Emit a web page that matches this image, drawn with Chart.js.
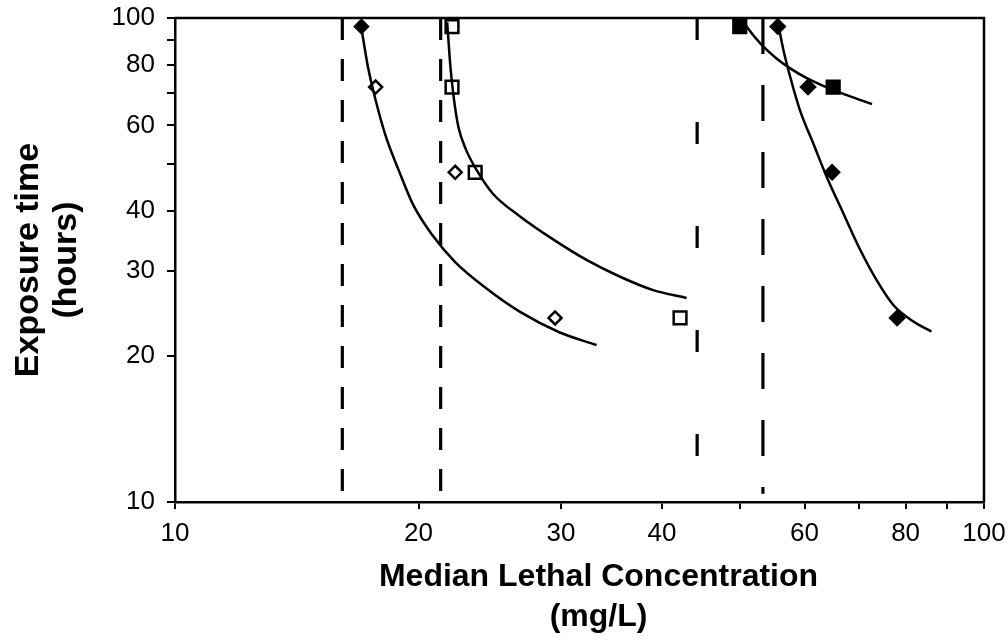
<!DOCTYPE html>
<html>
<head>
<meta charset="utf-8">
<script src="https://cdn.jsdelivr.net/npm/chart.js@4.4.1/dist/chart.umd.min.js"></script>
<style>
  body { margin: 0; background: #fff; }
  #wrap { width: 1008px; height: 643px; }
</style>
</head>
<body>
<div id="wrap"><canvas id="chart" width="1008" height="643"></canvas></div>
<script>
// exposure times (hours) of the measured points
const hours = [96, 72, 48, 24];

// measured LC50 values (mg/L)
const leftDiamonds = [17.0, 17.7, 22.2, 29.5];
const midSquares = [22.0, 22.0, 23.5, 42.1];
const rightSquares = [49.9, 65.1];
const rightDiamonds = [55.6, 60.6, 64.9, 78.1];

// fitted curves, [concentration, hours]
const curveA = [[17.0, 95.3], [17.3, 80.0], [17.7, 67.7], [18.2, 57.3], [18.9, 48.5], [19.7, 41.1],
  [20.8, 35.6], [22.2, 31.3], [24.2, 27.7], [26.7, 24.7], [29.9, 22.4], [33.2, 21.1]];
const curveB = [[21.7, 98.0], [21.9, 79.3], [22.1, 68.8], [22.4, 59.6], [22.9, 53.4], [23.6, 48.5],
  [24.7, 43.4], [26.7, 38.9], [29.4, 34.8], [32.3, 31.6], [35.5, 29.2], [39.0, 27.4], [42.9, 26.4]];
const curveC = [[49.5, 103], [50.9, 95.9], [52.9, 88.6], [55.4, 82.5], [57.6, 78.7], [60.4, 75.1],
  [63.9, 71.9], [67.7, 69.3], [72.7, 66.4]];
const curveD = [[55.7, 96.7], [56.5, 85.9], [57.6, 75.6], [59.2, 64.6], [61.5, 55.1], [63.9, 47.0],
  [67.0, 39.5], [70.3, 33.2], [73.7, 28.7], [77.3, 25.5], [81.8, 23.6], [86.1, 22.5]];

// incipient LC50 (dashed verticals)
const asymptotes = [16.1, 21.3, 44.2, 53.3];
const asymptoteSpan = [100, 10.4];

// axes
const xTickMarks = [10, 20, 30, 40, 50, 60, 70, 80, 90, 100];
const xTickLabels = [10, 20, 30, 40, 60, 80, 100];
const yTickMarks = [10, 20, 30, 40, 50, 60, 70, 80, 90, 100];
const yTickLabels = [10, 20, 30, 40, 60, 80, 100];
const xTitle = ["Median Lethal Concentration", "(mg/L)"];
const yTitle = ["Exposure time", "(hours)"];

const FONT = '"Liberation Sans", Arial, Helvetica, sans-serif';

function toPoints(arr) {
  return arr.map(p => ({ x: p[0], y: p[1] }));
}

function markers(xs) {
  return xs.map((x, i) => ({ x: x, y: hours[i] }));
}

function curve(arr) {
  return {
    data: toPoints(arr),
    borderColor: "#000",
    borderWidth: 2.5,
    pointRadius: 0,
    cubicInterpolationMode: "monotone",
    fill: false
  };
}

const dashPatterns = [[22, 19], [22, 19], [22, 82], [36, 31]];

const dashSets = asymptotes.map((x, i) => ({
  data: asymptoteSpan.map(y => ({ x: x, y: y })),
  borderColor: "#000",
  borderWidth: 3.2,
  borderDash: dashPatterns[i],
  pointRadius: 0,
  fill: false
}));

function markerSet(xs, style, radius, fills) {
  return {
    data: markers(xs),
    showLine: false,
    pointStyle: style,
    pointRadius: radius,
    pointBorderWidth: 2.5,
    pointBorderColor: "#000",
    pointBackgroundColor: fills
  };
}

const frame = {
  id: "frame",
  afterDraw(chart) {
    const { ctx, chartArea } = chart;
    ctx.save();
    ctx.strokeStyle = "#000";
    ctx.lineWidth = 2.5;
    ctx.beginPath();
    ctx.moveTo(chartArea.left, chartArea.top);
    ctx.lineTo(chartArea.right, chartArea.top);
    ctx.lineTo(chartArea.right, chartArea.bottom);
    ctx.stroke();

    // x axis title
    ctx.fillStyle = "#000";
    ctx.font = "bold 32px " + FONT;
    ctx.textAlign = "center";
    ctx.textBaseline = "middle";
    const cx = (chartArea.left + chartArea.right) / 2 + 19;
    ctx.fillText(xTitle[0], cx, chartArea.bottom + 75);
    ctx.fillText(xTitle[1], cx, chartArea.bottom + 115);
    ctx.restore();
  }
};

new Chart(document.getElementById("chart"), {
  type: "line",
  data: {
    datasets: [
      curve(curveA),
      curve(curveB),
      curve(curveC),
      curve(curveD),
      ...dashSets,
      markerSet(leftDiamonds, "rectRot", 6.5, ["#000", "#fff", "#fff", "#fff"]),
      markerSet(midSquares, "rect", 9, "#fff"),
      markerSet(rightSquares, "rect", 9, "#000"),
      markerSet(rightDiamonds, "rectRot", 7, "#000")
    ]
  },
  options: {
    responsive: false,
    animation: false,
    layout: { padding: { top: 18, right: 24, left: 0, bottom: 0 } },
    plugins: {
      legend: { display: false },
      tooltip: { enabled: false }
    },
    scales: {
      x: {
        type: "logarithmic",
        min: 10,
        max: 100,
        afterBuildTicks(scale) {
          scale.ticks = xTickMarks.map(v => ({ value: v }));
        },
        afterFit(scale) {
          scale.height = 141;
          scale.paddingLeft = 0;
          scale.paddingRight = 0;
        },
        ticks: {
          autoSkip: false,
          maxRotation: 0,
          padding: 9,
          color: "#000",
          font: { family: FONT, size: 26 },
          callback: v => (xTickLabels.includes(v) ? String(v) : "")
        },
        grid: {
          drawOnChartArea: false,
          drawTicks: true,
          tickLength: 7,
          color: "#000",
          lineWidth: 2
        },
        border: { display: true, color: "#000", width: 2.5 }
      },
      y: {
        type: "logarithmic",
        min: 10,
        max: 100,
        afterBuildTicks(scale) {
          scale.ticks = yTickMarks.map(v => ({ value: v }));
        },
        afterFit(scale) {
          scale.width = 175;
          scale.paddingTop = 0;
          scale.paddingBottom = 0;
        },
        ticks: {
          autoSkip: false,
          padding: 12,
          color: "#000",
          font: { family: FONT, size: 26 },
          callback: v => (yTickLabels.includes(v) ? String(v) : "")
        },
        grid: {
          drawOnChartArea: false,
          drawTicks: true,
          tickLength: 8,
          color: "#000",
          lineWidth: 2
        },
        border: { display: true, color: "#000", width: 2.5 },
        title: {
          display: true,
          text: yTitle,
          color: "#000",
          font: { family: FONT, size: 34, weight: "bold", lineHeight: 1.12 },
          padding: { top: 10, bottom: 0 }
        }
      }
    }
  },
  plugins: [frame]
});
</script>
</body>
</html>
